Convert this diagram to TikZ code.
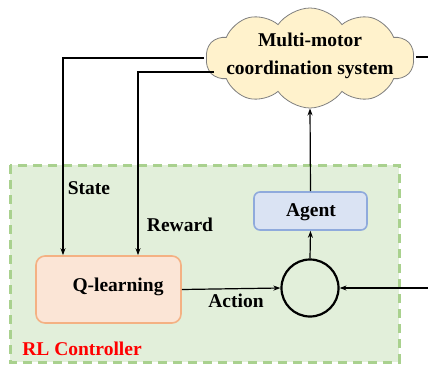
\documentclass[tikz,border=0pt]{standalone}
\usepackage{fontspec}
\setmainfont{Liberation Serif}
\usetikzlibrary{shapes.symbols,arrows.meta}
\definecolor{rlfill}{HTML}{E2EFDA}
\definecolor{rldash}{HTML}{A9D18E}
\definecolor{qfill}{HTML}{FBE5D6}
\definecolor{qdraw}{HTML}{F4B183}
\definecolor{afill}{HTML}{DAE3F3}
\definecolor{adraw}{HTML}{8FAADC}
\definecolor{cfill}{HTML}{FFF2CC}
\definecolor{cdraw}{HTML}{7F7F7F}
\definecolor{rlred}{HTML}{FF0000}
\tikzset{
  lbl/.style={font=\fontsize{19.5}{28}\selectfont\bfseries, inner sep=0pt, text=black},
  conn/.style={draw=black, line width=1.2pt},
  arr/.style={conn, -{Stealth[length=7pt,width=5pt]}},
  qbox/.style={draw=qdraw, fill=qfill, line width=1.6pt, rounded corners=9pt, minimum width=145pt, minimum height=67pt},
  abox/.style={draw=adraw, fill=afill, line width=1.6pt, rounded corners=6pt, minimum width=113pt, minimum height=38pt},
  cloudnode/.style={cloud, cloud puffs=10, cloud puff arc=110, aspect=2, draw=cdraw, fill=cfill, line width=0.8pt, minimum width=208pt, minimum height=100pt, inner sep=0pt},
}
\begin{document}
\begin{tikzpicture}[x=1pt,y=-1pt]
\useasboundingbox (0,0) rectangle (428,364);
% RL controller region
\draw[fill=rlfill, draw=rldash, line width=3pt, dash pattern=on 9pt off 6pt] (10,165) rectangle (399,362);
% cloud
\node[cloudnode] (sys) at (310,58) {};
\node[lbl, align=center] (systxt) at (310,56) {Multi-motor\\coordination system};
% boxes
\node[qbox] (q) at (108.5,289.5) {};
\node[lbl] (qtxt) at (118,287) {Q-learning};
\node[abox] (agent) at (310.5,211) {};
\node[lbl] (atxt) at (311,212) {Agent};
\node[circle, draw=black, line width=2.2pt, minimum size=57pt, inner sep=0pt] (sum) at (310,288) {};
% labels
\node[lbl] (state) at (89,188) {State};
\node[lbl] (reward) at (180,225) {Reward};
\node[lbl] (action) at (236,301) {Action};
\node[lbl, text=rlred] (rl) at (82,349) {RL Controller};
% connectors
\coordinate (sOut) at (204,58);
\coordinate (rOut) at (214,72);
\coordinate (cOut) at (416,57);
\coordinate (rTop) at (428.5,57);
\coordinate (rBot) at (428.5,288);
\draw[arr] (sOut) -| ([xshift=-45.5pt]q.north);
\draw[arr] (rOut) -| ([xshift=29.5pt]q.north);
\draw[arr] (q.east) -- (sum.west);
\draw[arr] (sum.north) -- (agent.south);
\draw[arr] (agent.north) -- (sys.south);
\draw[conn] (cOut) -- (rTop) -- (rBot);
\draw[arr] (rBot) -- (sum.east);
\end{tikzpicture}
\end{document}
